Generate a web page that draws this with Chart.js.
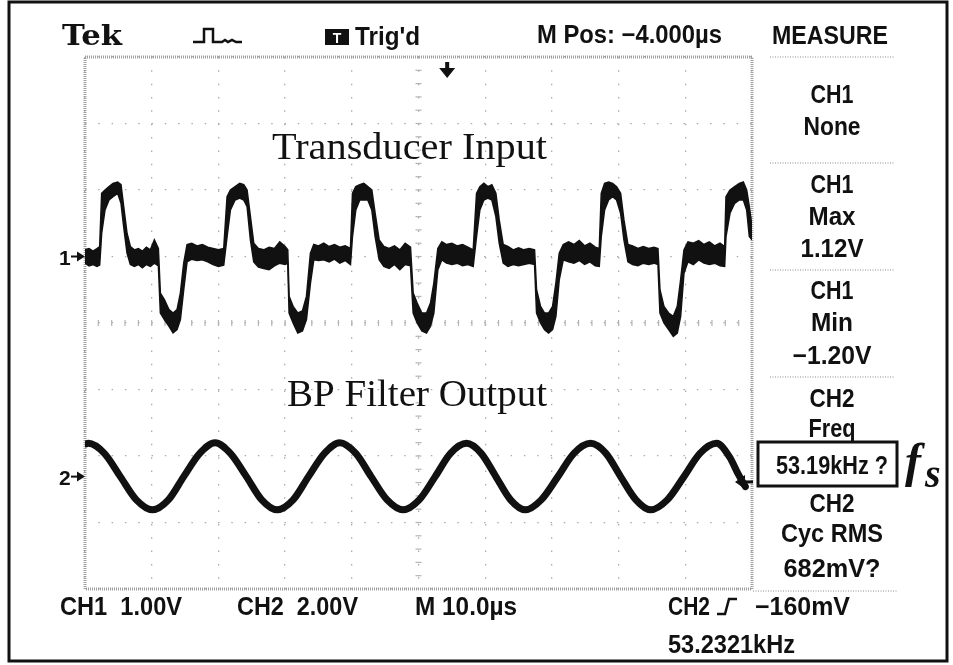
<!DOCTYPE html>
<html><head><meta charset="utf-8">
<script src="https://cdn.jsdelivr.net/npm/chart.js@4.4.1/dist/chart.umd.min.js"></script>
<style>html,body{margin:0;padding:0;background:#fff;}canvas{display:block;}</style>
</head><body>
<canvas id="c" width="953" height="665"></canvas>
<script>
// ---------- data (time in µs, volts) ----------
const ch1Time = [
 0,0.6,1.2,1.8,2.2,2.5,3.0,3.6,4.2,4.9,5.4,5.8,6.3,6.8,7.4,8.0,8.6,9.2,9.8,10.4,11.0,11.3,11.9,12.6,13.2,13.8,14.3,14.8,15.3,16.0,16.8,17.6,18.4,19.2,20.0,20.8,
 21.3,21.8,22.5,23.2,23.8,24.3,24.8,25.3,26.0,26.8,27.6,28.4,29.2,30.0,30.4,30.6,31.2,31.9,32.6,33.2,33.8,34.3,35.0,35.8,36.6,37.4,38.2,39.0,39.8,
 40.1,40.6,41.2,41.8,42.4,43.0,43.5,44.1,44.8,45.6,46.4,47.2,48.0,48.8,49.2,49.8,50.5,51.2,51.8,52.3,52.9,53.5,54.2,55.0,55.8,56.6,57.4,58.2,
 58.7,59.2,59.8,60.4,61.0,61.6,62.1,62.7,63.4,64.2,65.0,65.8,66.6,67.4,67.7,68.3,68.9,69.5,70.1,70.6,71.1,71.7,72.5,73.3,74.1,74.9,75.7,76.5,77.1,
 77.4,77.9,78.5,79.1,79.7,80.3,80.8,81.4,82.1,82.9,83.7,84.5,85.3,85.9,86.2,86.8,87.5,88.2,88.8,89.3,89.8,90.4,91.2,92.0,92.8,93.6,94.4,95.2,95.9,
 96.1,96.7,97.4,98.1,98.7,99.2,99.6,100
];
const ch1High = [
 0.10,0.12,0.08,0.12,0.15,0.95,1.00,1.05,1.10,1.12,1.08,0.75,0.35,0.15,0.10,0.12,0.08,0.14,0.10,0.25,0.12,-0.55,-0.65,-0.80,-0.85,-0.80,-0.55,-0.10,0.18,0.20,0.16,0.18,0.14,0.12,0.10,0.12,
 0.90,1.00,1.05,1.10,1.08,1.00,0.60,0.20,0.12,0.10,0.14,0.12,0.22,0.15,0.10,-0.60,-0.75,-0.85,-0.82,-0.60,0.05,0.18,0.16,0.20,0.15,0.18,0.14,0.16,0.12,
 0.95,1.05,1.08,1.10,1.05,1.00,0.65,0.25,0.15,0.12,0.16,0.10,0.20,0.14,-0.55,-0.70,-0.85,-0.85,-0.70,-0.40,0.12,0.22,0.18,0.20,0.16,0.18,0.14,0.10,
 0.95,1.05,1.10,1.05,1.08,0.95,0.55,0.18,0.15,0.10,0.13,0.10,0.12,0.10,-0.50,-0.75,-0.85,-0.85,-0.75,-0.40,0.05,0.18,0.22,0.18,0.24,0.16,0.20,0.14,0.12,
 0.95,1.10,1.12,1.10,1.05,0.95,0.55,0.18,0.16,0.12,0.15,0.12,0.14,0.12,-0.50,-0.75,-0.85,-0.90,-0.75,-0.35,0.10,0.22,0.20,0.24,0.18,0.22,0.16,0.20,0.15,
 0.90,1.00,1.05,1.10,1.12,1.00,0.75,0.45
];
const ch1Low = [
 -0.10,-0.14,-0.12,-0.15,-0.13,0.35,0.70,0.85,0.90,0.95,0.80,0.45,0.05,-0.12,-0.15,-0.12,-0.17,-0.12,-0.15,-0.10,-0.14,-0.85,-0.95,-1.05,-1.15,-1.10,-0.95,-0.50,-0.08,-0.04,-0.06,-0.05,-0.08,-0.12,-0.15,-0.13,
 0.30,0.70,0.85,0.88,0.85,0.75,0.25,-0.08,-0.16,-0.18,-0.20,-0.14,-0.10,-0.12,-0.10,-0.85,-1.00,-1.15,-1.12,-0.95,-0.40,-0.05,-0.06,-0.05,-0.08,-0.04,-0.10,-0.06,-0.12,
 0.30,0.70,0.85,0.85,0.85,0.70,0.30,-0.05,-0.15,-0.18,-0.12,-0.20,-0.12,-0.14,-0.85,-1.00,-1.12,-1.15,-1.05,-0.85,-0.20,-0.05,-0.10,-0.12,-0.10,-0.14,-0.12,-0.15,
 0.30,0.70,0.85,0.88,0.85,0.60,0.20,-0.10,-0.15,-0.12,-0.14,-0.12,-0.10,-0.12,-0.85,-1.00,-1.10,-1.15,-1.10,-0.90,-0.35,-0.05,-0.08,-0.10,-0.06,-0.12,-0.08,-0.14,-0.15,
 0.30,0.70,0.85,0.90,0.85,0.65,0.25,-0.08,-0.12,-0.14,-0.10,-0.12,-0.10,-0.12,-0.85,-1.00,-1.10,-1.20,-1.15,-0.90,-0.25,-0.08,-0.12,-0.05,-0.10,-0.12,-0.10,-0.14,-0.15,
 0.30,0.65,0.80,0.85,0.85,0.70,0.30,0.25
];
const ch2Time = [0,0.5,2.9,5.3,7.7,10.1,12.5,14.8,17.2,19.5,21.8,24.2,26.5,28.8,31.2,33.5,35.9,38.2,40.6,42.9,45.3,47.7,50.1,52.5,54.8,57.2,59.4,61.6,63.8,66.0,68.4,70.9,73.3,75.8,78.1,80.3,82.6,84.8,87.3,89.8,92.2,94.7,96.6,98.0,99.0];
const ch2Volts = [0.98,1.0,0.7,0.0,-0.7,-1.0,-0.7,0.0,0.7,1.02,0.7,0.0,-0.7,-1.0,-0.7,0.0,0.7,1.02,0.7,0.0,-0.7,-1.0,-0.7,0.0,0.7,1.0,0.7,0.0,-0.7,-1.0,-0.7,0.0,0.7,1.0,0.7,0.0,-0.7,-1.0,-0.7,0.0,0.7,1.0,0.6,0.05,-0.3];

const triggerTime = 54.3;     // µs (trigger arrow)
const triggerLevel = -0.16;   // V on CH2
const timeTicks = [0,10,20,30,40,50,60,70,80,90,100];
const ch1Ticks = [-5,-4,-3,-2,-1,0,1,2,3];

const panelLabels = ["CH1","None","CH1","Max","1.12V","CH1","Min","\u22121.20V","CH2","Freq","53.19kHz ?","CH2","Cyc RMS","682mV?"];
const bottomLabels = ["CH1  1.00V","CH2  2.00V","M 10.0\u00b5s","CH2","\u2212160mV","53.2321kHz"];
const headerLabels = ["Tek","Trig'd","M Pos: \u22124.000\u00b5s","MEASURE"];
const traceTitles = ["Transducer Input","BP Filter Output"];

// ---------- layout (pixels) ----------
const TEKF = 'bold 25px "Liberation Sans", Arial, sans-serif';
const panelLayout = { cx: 832, base: [103,135,193,225,257,299,331,364,407,437,474,512,542,577], w: [43,57,43,47,63,43,42,79,45,47,112,45,102,97] };

function fitText(ctx, str, x, y, font, width, align) {
  ctx.save();
  ctx.font = font;
  const m = ctx.measureText(str).width;
  const s = width / m;
  const x0 = align === 'center' ? x - width / 2 : x;
  ctx.translate(x0, y);
  ctx.scale(s, 1);
  ctx.textAlign = 'left';
  ctx.textBaseline = 'alphabetic';
  ctx.fillText(str, 0, 0);
  ctx.restore();
}
function seg(ctx, x1, y1, x2, y2) { ctx.beginPath(); ctx.moveTo(x1, y1); ctx.lineTo(x2, y2); ctx.stroke(); }

const scopePlugin = {
  id: 'scope',
  beforeDatasetsDraw(chart) {
    const { ctx, chartArea: a, scales: { x, y } } = chart;
    ctx.save();
    const cx = x.getPixelForValue(50), cy = y.getPixelForValue(-1);
    const dX = (x.getPixelForValue(10) - x.getPixelForValue(0)) / 5;
    const dY = (y.getPixelForValue(0) - y.getPixelForValue(1)) / 5;
    ctx.strokeStyle = '#b4b4b4'; ctx.lineWidth = 1.2;
    for (let k = 1; k < 50; k++) seg(ctx, a.left + k * dX, cy - 3, a.left + k * dX, cy + 3);
    for (let k = 1; k < 40; k++) seg(ctx, cx - 3, a.top + k * dY, cx + 3, a.top + k * dY);
    ctx.strokeStyle = '#a0a0a0'; ctx.lineWidth = 3; ctx.setLineDash([1, 1]);
    ctx.strokeRect(a.left, a.top, a.right - a.left, a.bottom - a.top);
    ctx.restore();
  },
  afterDraw(chart) {
    const { ctx, chartArea: a, scales: { x, y, y2 } } = chart;
    ctx.save();
    ctx.fillStyle = '#111'; ctx.strokeStyle = '#111';

    ctx.lineWidth = 3;
    ctx.strokeRect(9, 2, 938, 659);

    fitText(ctx, headerLabels[0], 62, 45, 'bold 27px "DejaVu Serif", serif', 60, 'left');
    fitText(ctx, headerLabels[1], 355, 45, TEKF, 65, 'left');
    fitText(ctx, headerLabels[2], 537, 43, TEKF, 185, 'left');
    fitText(ctx, headerLabels[3], 830, 44, TEKF, 116, 'center');
    ctx.lineWidth = 2.5;
    ctx.beginPath();
    ctx.moveTo(193, 42); ctx.lineTo(204, 42); ctx.lineTo(204, 29); ctx.lineTo(213, 29); ctx.lineTo(213, 42);
    ctx.lineTo(222, 42); ctx.lineTo(225, 40); ctx.lineTo(228, 42); ctx.lineTo(232, 40); ctx.lineTo(236, 42); ctx.lineTo(242, 42);
    ctx.stroke();
    ctx.fillRect(325, 29, 24, 16);
    ctx.fillStyle = '#fff';
    ctx.font = 'bold 14px "Liberation Sans", Arial, sans-serif';
    ctx.textAlign = 'center'; ctx.textBaseline = 'alphabetic';
    ctx.fillText('T', 337, 43);
    ctx.fillStyle = '#111';

    const tx = x.getPixelForValue(triggerTime);
    ctx.fillRect(tx - 2, a.top + 5, 4, 8);
    ctx.beginPath(); ctx.moveTo(tx - 8, a.top + 11); ctx.lineTo(tx + 8, a.top + 11); ctx.lineTo(tx, a.top + 21); ctx.closePath(); ctx.fill();

    const g1 = y.getPixelForValue(0), g2 = y2.getPixelForValue(0);
    ctx.font = 'bold 21px "Liberation Sans", Arial, sans-serif';
    ctx.textAlign = 'left';
    ctx.fillText('1', 59, g1 + 8);
    ctx.fillText('2', 59, g2 + 8);
    ctx.lineWidth = 2;
    [g1, g2].forEach(g => {
      seg(ctx, 71, g, 80, g);
      ctx.beginPath(); ctx.moveTo(77, g - 5); ctx.lineTo(85, g); ctx.lineTo(77, g + 5); ctx.closePath(); ctx.fill();
    });
    const tl = y2.getPixelForValue(triggerLevel);
    ctx.lineWidth = 3;
    seg(ctx, a.right - 10, tl, a.right + 1, tl);
    ctx.beginPath(); ctx.moveTo(a.right - 17, tl); ctx.lineTo(a.right - 7, tl - 7); ctx.lineTo(a.right - 7, tl + 7); ctx.closePath(); ctx.fill();

    fitText(ctx, traceTitles[0], 272, 159, '38px "Liberation Serif", "Times New Roman", serif', 275, 'left');
    fitText(ctx, traceTitles[1], 287, 406, '38px "Liberation Serif", "Times New Roman", serif', 260, 'left');

    ctx.strokeStyle = '#8a8a8a'; ctx.lineWidth = 1.2; ctx.setLineDash([1, 1.5]);
    [57, 163, 270, 377].forEach(v => seg(ctx, 770, v, 895, v));
    seg(ctx, 753, 591, 897, 591);
    ctx.setLineDash([]);
    ctx.strokeStyle = '#111';
    panelLabels.forEach((s, i) => fitText(ctx, s, panelLayout.cx, panelLayout.base[i], TEKF, panelLayout.w[i], 'center'));
    ctx.lineWidth = 3;
    ctx.strokeRect(758, 442, 139, 44);
    ctx.font = 'bold italic 48px "Liberation Serif", "Times New Roman", serif';
    ctx.textAlign = 'left';
    ctx.fillText('f', 905, 477);
    ctx.font = 'bold italic 40px "Liberation Serif", "Times New Roman", serif';
    ctx.fillText('s', 925, 487);

    fitText(ctx, bottomLabels[0], 60, 615, TEKF, 122, 'left');
    fitText(ctx, bottomLabels[1], 237, 615, TEKF, 121, 'left');
    fitText(ctx, bottomLabels[2], 415, 615, TEKF, 102, 'left');
    fitText(ctx, bottomLabels[3], 668, 615, TEKF, 42, 'left');
    ctx.lineWidth = 2.5;
    ctx.beginPath(); ctx.moveTo(717, 614); ctx.lineTo(725, 614); ctx.lineTo(729, 599); ctx.lineTo(737, 599); ctx.stroke();
    fitText(ctx, bottomLabels[4], 755, 615, TEKF, 95, 'left');
    fitText(ctx, bottomLabels[5], 668, 653, TEKF, 127, 'left');
    ctx.restore();
  }
};

const gridStyle = { color: '#ababab', lineWidth: 1.3, drawTicks: false };

new Chart(document.getElementById('c'), {
  type: 'line',
  data: {
    datasets: [
      { label: 'CH1 upper', data: ch1Time.map((t, i) => ({ x: t, y: ch1High[i] })), yAxisID: 'y',
        borderColor: '#111', borderWidth: 1.5, pointRadius: 0, fill: false, tension: 0 },
      { label: 'CH1 lower', data: ch1Time.map((t, i) => ({ x: t, y: ch1Low[i] })), yAxisID: 'y',
        borderColor: '#111', borderWidth: 1.5, pointRadius: 0, fill: '-1', backgroundColor: '#111', tension: 0 },
      { label: 'CH2', data: ch2Time.map((t, i) => ({ x: t, y: ch2Volts[i] })), yAxisID: 'y2',
        borderColor: '#111', borderWidth: 7, pointRadius: 0, fill: false, cubicInterpolationMode: 'monotone',
        borderCapStyle: 'round', borderJoinStyle: 'round' }
    ]
  },
  options: {
    responsive: false,
    animation: false,
    devicePixelRatio: 1,
    layout: { padding: { left: 85, right: 201, top: 57, bottom: 76 } },
    plugins: { legend: { display: false }, tooltip: { enabled: false } },
    scales: {
      x: { type: 'linear', min: 0, max: 100,
           afterBuildTicks: s => { s.ticks = timeTicks.map(v => ({ value: v })); },
           ticks: { display: false }, grid: gridStyle,
           border: { display: false, dash: [1.5, 11.84] },
           afterFit: s => { s.height = 0; } },
      y: { type: 'linear', min: -5, max: 3,
           afterBuildTicks: s => { s.ticks = ch1Ticks.map(v => ({ value: v })); },
           ticks: { display: false }, grid: gridStyle,
           border: { display: false, dash: [1.5, 11.8] },
           afterFit: s => { s.width = 0; } },
      y2: { type: 'linear', min: -3.38, max: 12.62, display: false }
    }
  },
  plugins: [scopePlugin]
});
</script>
</body></html>
